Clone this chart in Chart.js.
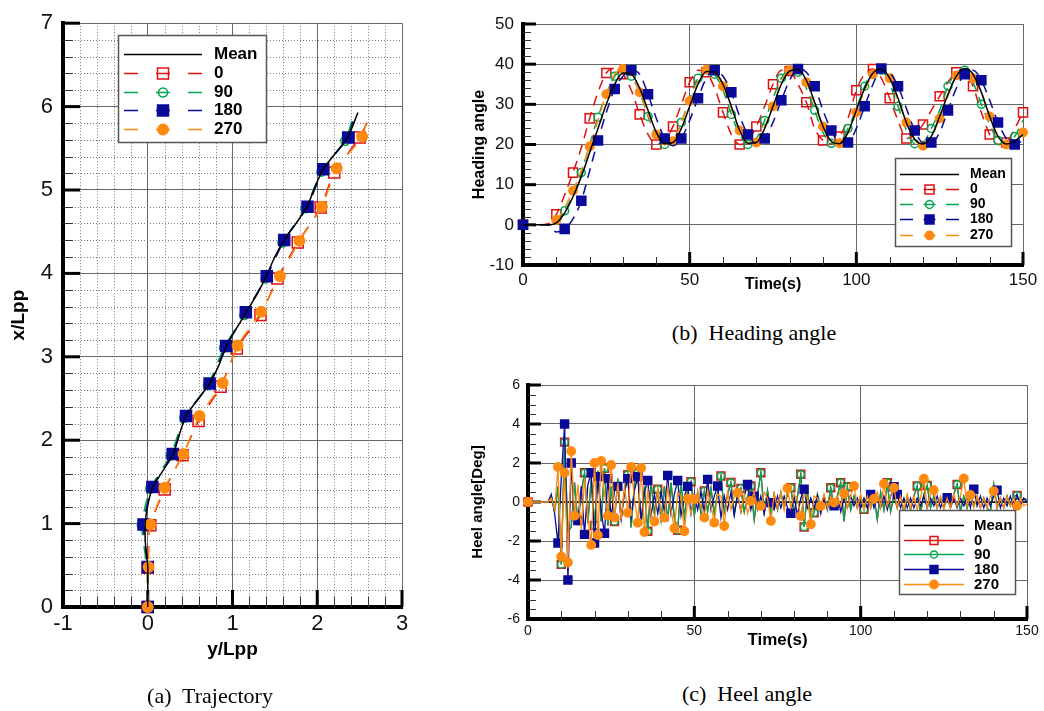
<!DOCTYPE html>
<html>
<head>
<meta charset="utf-8">
<title>Turning in waves: trajectory, heading and heel</title>
<script src="https://cdn.jsdelivr.net/npm/chart.js@4.4.1/dist/chart.umd.min.js"></script>
<style>
  html, body { margin: 0; padding: 0; background: #fff; }
  body { width: 1044px; height: 711px; position: relative; overflow: hidden; }
  canvas { position: absolute; }
  .cap {
    position: absolute;
    font-family: "Liberation Serif", "Times New Roman", serif;
    font-size: 22px;
    color: #000;
    white-space: pre;
    transform: translate(-50%, -50%);
  }
</style>
</head>
<body>
<canvas id="trajChart" width="440" height="711" style="left:0;top:0"></canvas>
<canvas id="headChart" width="584" height="310" style="left:460px;top:0"></canvas>
<canvas id="heelChart" width="584" height="300" style="left:460px;top:360px"></canvas>
<div class="cap" style="left:210px;top:696px">(a)  Trajectory</div>
<div class="cap" style="left:754px;top:333px">(b)  Heading angle</div>
<div class="cap" style="left:747px;top:694px">(c)  Heel angle</div>

<script>
// ---- (a) trajectory: y/Lpp (horizontal) and x/Lpp (vertical) ----
const trajMeanY = [0, 0, -0.03, -0.02, 0.05, 0.17, 0.3, 0.36, 0.45, 0.6, 0.73, 0.84, 0.93, 1.04, 1.16, 1.3, 1.4, 1.5, 1.61, 1.75, 1.88, 1.97, 2.07, 2.22, 2.36, 2.48];
const trajMeanX = [0, 0.48, 0.8, 1.1, 1.42, 1.62, 1.83, 2.03, 2.29, 2.5, 2.68, 2.9, 3.13, 3.33, 3.53, 3.77, 3.97, 4.2, 4.4, 4.6, 4.8, 5.03, 5.25, 5.45, 5.63, 5.93];
const trajY0 = [0, 0, 0.03, 0.2, 0.41, 0.6, 0.86, 1.05, 1.33, 1.53, 1.77, 2.04, 2.2, 2.5, 2.63];
const trajX0 = [0, 0.47, 0.98, 1.41, 1.82, 2.23, 2.64, 3.1, 3.5, 3.94, 4.37, 4.79, 5.21, 5.63, 5.9];
const trajY90 = [0, -0.01, -0.07, 0.03, 0.27, 0.43, 0.71, 0.9, 1.14, 1.39, 1.59, 1.86, 2.05, 2.33, 2.42];
const trajX90 = [0, 0.47, 0.98, 1.42, 1.82, 2.27, 2.66, 3.11, 3.5, 3.94, 4.37, 4.78, 5.22, 5.59, 5.87];
const trajY180 = [0, 0, -0.05, 0.055, 0.295, 0.452, 0.73, 0.925, 1.157, 1.405, 1.61, 1.885, 2.07, 2.365, 2.43];
const trajX180 = [0, 0.48, 0.99, 1.44, 1.835, 2.29, 2.68, 3.13, 3.535, 3.966, 4.4, 4.8, 5.25, 5.63, 5.88];
const trajY270 = [0, 0.01, 0.03, 0.2, 0.42, 0.61, 0.885, 1.06, 1.34, 1.56, 1.79, 2.055, 2.23, 2.53, 2.6];
const trajX270 = [0, 0.48, 0.99, 1.43, 1.835, 2.29, 2.685, 3.135, 3.54, 3.966, 4.39, 4.8, 5.26, 5.64, 5.92];

// ---- (b) heading angle [deg] against time [s] ----
const headT = [0, 2.5, 5, 7.5, 10, 12.5, 15, 17.5, 20, 22.5, 25, 27.5, 30, 32.5, 35, 37.5, 40, 42.5, 45, 47.5, 50, 52.5, 55, 57.5, 60, 62.5, 65, 67.5, 70, 72.5, 75, 77.5, 80, 82.5, 85, 87.5, 90, 92.5, 95, 97.5, 100, 102.5, 105, 107.5, 110, 112.5, 115, 117.5, 120, 122.5, 125, 127.5, 130, 132.5, 135, 137.5, 140, 142.5, 145, 147.5, 150];
const headMean = [0, 0, 0, 0, 0.5, 3, 7, 12, 18, 24, 30, 35, 37.8, 37.5, 34, 28.5, 23, 20.2, 20.5, 24, 29.5, 35, 38.2, 38, 35, 29.5, 23.5, 20.3, 20.5, 24, 29.5, 35, 38.3, 38.7, 36, 30.5, 24.5, 20.8, 20.2, 23, 28.5, 34, 37.8, 38.8, 36.5, 31.5, 25.5, 21.3, 20.1, 22, 27, 32.5, 37, 38.9, 37.5, 33, 27, 22, 20.1, 20.8, 22.5];
const head0 = [0, 0, 0, 0.3, 2.6, 7.5, 13, 19.2, 26.5, 33, 37.8, 39, 37.5, 33.5, 27.5, 22.5, 20, 21, 24.5, 30, 35.5, 38.5, 38, 34, 28, 22.5, 20, 21, 24.5, 29.5, 35, 38.5, 38.3, 35, 30.5, 24, 21, 20.2, 22, 26.5, 33.5, 37.5, 38.8, 36.5, 31.5, 26, 21.5, 22.5, 25, 28.5, 32, 35.5, 38, 38.5, 34.5, 28, 22.5, 20, 20.5, 24, 28];
const head90 = [0, 0, 0, 0, 0.3, 3.5, 7.5, 13, 20, 26.8, 32.5, 37, 38.5, 37, 33, 27, 22, 20, 21, 25.5, 31.5, 36.5, 38.8, 37.5, 33.5, 27.5, 22.5, 20, 21.5, 26, 31.5, 36.5, 38.8, 38, 34, 28.5, 23, 20.3, 20.5, 24, 29, 34.5, 38.3, 38.5, 35, 29.5, 23.5, 20.2, 20.5, 24, 28.5, 34.5, 38, 38.5, 35.5, 30, 25, 21, 20, 22, 26];
const head180 = [0, 0, 0, 0, -1.8, -1, 1.5, 6, 13.5, 21, 28, 33.8, 37, 38.5, 37.5, 32.5, 26.5, 21.5, 19.7, 21.5, 26, 31.5, 36.5, 38.5, 37, 33, 27, 22.5, 20.2, 21.5, 25.5, 31, 36, 38.8, 38, 34.5, 28.5, 23.5, 20.5, 20.5, 24, 29.5, 35, 38.9, 38, 34.5, 29, 23.5, 20.5, 20.5, 23, 28.5, 34, 37.5, 38.5, 36, 31, 25.5, 21.5, 20, 21];
const head270 = [0, 0, 0, 0, 1.2, 4.3, 8.5, 13.5, 19.5, 26, 32.5, 37.5, 38.8, 37, 33, 27.5, 22.5, 20, 20.8, 25.5, 30.8, 35.5, 38.6, 38, 34.5, 29, 23.5, 20.3, 20.5, 24.5, 29.5, 35.5, 38.5, 38.5, 35.5, 30, 24.5, 20.8, 20.3, 22.8, 28, 33.5, 37.5, 38.7, 36.5, 31, 25.5, 21.2, 19.7, 22, 26.5, 32, 37.2, 38.8, 36.5, 33, 27, 22, 20, 20.5, 23];

// ---- (c) heel angle [deg] against time [s] ----
const heelT = [0, 1, 2, 3, 4, 5, 6, 7, 8, 9, 10, 11, 12, 13, 14, 15, 16, 17, 18, 19, 20, 21, 22, 23, 24, 25, 26, 27, 28, 29, 30, 31, 32, 33, 34, 35, 36, 37, 38, 39, 40, 41, 42, 43, 44, 45, 46, 47, 48, 49, 50, 51, 52, 53, 54, 55, 56, 57, 58, 59, 60, 61, 62, 63, 64, 65, 66, 67, 68, 69, 70, 71, 72, 73, 74, 75, 76, 77, 78, 79, 80, 81, 82, 83, 84, 85, 86, 87, 88, 89, 90, 91, 92, 93, 94, 95, 96, 97, 98, 99, 100, 101, 102, 103, 104, 105, 106, 107, 108, 109, 110, 111, 112, 113, 114, 115, 116, 117, 118, 119, 120, 121, 122, 123, 124, 125, 126, 127, 128, 129, 130, 131, 132, 133, 134, 135, 136, 137, 138, 139, 140, 141, 142, 143, 144, 145, 146, 147, 148, 149, 150];
const heelMeanT = [0, 150];
const heelMean = [0, 0];
const heel0 = [
  0, 0, 0, 0, 0, 0, 0, 0.3, -0.5, 0.8,
  -3.2, 3.07, -1.5, -1.3, 1.0, -1.2, 0.5, 1.5, -1.1, 1.2,
  -1.2, 1.6, -1.0, 1.73, -1.2, 0.8, -1.0, 1.2, -0.9, 0.6,
  1.4, -1.3, 0.9, 1.5, -1.2, 0.8, -1.5, 1.0, -0.6, 0.65,
  -0.9, 0.8, -1.0, 1.0, -0.8, -1.45, 1.0, -0.8, 0.6, 1.04,
  -0.7, 0.5, -0.6, 0.56, -0.5, 0.7, -0.6, 0.5, 1.33, -0.5,
  0.4, 1.0, -0.6, 0.4, 0.7, -0.5, 0.3, 0.82, -0.9, 0.4,
  1.5, -0.5, 0.6, -0.6, 0.4, -0.4, 0.5, -0.3, 0.4, 0.73,
  -0.5, 0.3, 1.42, -1.28, 0.5, -0.9, -0.55, 0.4, -0.3, 0.3,
  -0.4, 0.73, -0.3, 0.3, 0.99, -1.0, 0.78, -0.4, 0.3, -0.3,
  0.3, -0.38, 0.4, -0.3, 0.3, -0.9, 0.5, -0.4, 0.99, -0.5,
  0.3, -0.3, 0.4, -0.6, 0.3, -0.4, 0.3, 0.82, -0.6, 0.4,
  0.85, -0.3, 0.3, -0.3, 0.2, -0.3, 0.3, -0.2, 0.4, 0.9,
  -0.5, 0.3, -0.3, 0.3, -0.2, 0.3, -0.3, 0.2, -0.3, -0.5,
  0.9, -0.3, 0.2, -0.3, 0.3, -0.2, 0.3, 0.34, -0.2, 0.2, 0.1
];
const heel90 = [
  0, 0, 0, 0, 0, 0, 0, 0.3, -0.5, 0.8,
  -3.2, 3.07, -1.5, -1.3, 1.0, -1.2, 0.5, 1.5, -1.1, 1.2,
  -1.2, 1.6, -1.0, 1.73, -1.2, 0.8, -1.0, 1.2, -0.9, 0.6,
  1.4, -1.3, 0.9, 1.5, -1.2, 0.8, -1.5, 1.0, -0.6, 0.65,
  -0.9, 0.8, -1.0, 1.0, -0.8, -1.45, 1.0, -0.8, 0.6, 1.04,
  -0.7, 0.5, -0.6, 0.56, -0.5, 0.7, -0.6, 0.5, 1.33, -0.5,
  0.4, 1.0, -0.6, 0.4, 0.7, -0.5, 0.3, 0.82, -0.9, 0.4,
  1.5, -0.5, 0.6, -0.6, 0.4, -0.4, 0.5, -0.3, 0.4, 0.73,
  -0.5, 0.3, 1.42, -1.28, 0.5, -0.9, -0.55, 0.4, -0.3, 0.3,
  -0.4, 0.73, -0.3, 0.3, 0.99, -1.0, 0.78, -0.4, 0.3, -0.3,
  0.3, -0.38, 0.4, -0.3, 0.3, -0.9, 0.5, -0.4, 0.99, -0.5,
  0.3, -0.3, 0.4, -0.6, 0.3, -0.4, 0.3, 0.82, -0.6, 0.4,
  0.85, -0.3, 0.3, -0.3, 0.2, -0.3, 0.3, -0.2, 0.4, 0.9,
  -0.5, 0.3, -0.3, 0.3, -0.2, 0.3, -0.3, 0.2, -0.3, -0.5,
  0.9, -0.3, 0.2, -0.3, 0.3, -0.2, 0.3, 0.34, -0.2, 0.2, 0.1
];
const heel180 = [
  0, 0, 0, 0, 0, 0, 0, 0.4, -0.6, -2.1,
  1.2, 4.0, -4.0, 2.0, -1.0, -0.95, 0.8, -1.66, 0.9, 1.5,
  -2.1, 1.3, -0.5, -1.6, 1.2, -0.8, 0.6, 0.8, -0.9, 0.5,
  1.2, -0.8, 0.6, 1.3, -0.9, 0.5, 1.1, -0.7, 0.4, -0.6,
  0.5, -0.5, 1.36, -0.6, 0.4, 1.1, -0.7, 0.3, 0.8, -0.6,
  0.4, -0.4, 0.5, -0.5, 1.16, -0.4, 0.3, 0.82, -0.8, 0.3,
  -0.4, 0.5, -0.7, 0.4, -0.5, 0.3, 0.9, -0.4, 0.3, -0.4,
  0.3, -0.6, 0.3, -0.03, -0.4, 0.3, -0.3, 0.3, -0.3, -0.58,
  0.3, -0.7, 0.2, 0.65, -0.3, 0.2, -0.3, 0.3, -0.6, 0.2,
  -0.3, 0.3, -0.2, 0.3, -0.5, 0.2, -0.3, 0.3, -0.2, 0.2,
  -0.3, 0.2, -0.3, 0.39, -0.3, 0.2, -0.3, 0.3, -0.4, 0.3,
  0.78, 0.39, -0.3, 0.2, -0.3, 0.2, -0.3, 0.2, -0.2, 0.3,
  -0.3, 0.2, -0.2, 0.3, -0.3, 0.2, 0.22, -0.3, 0.2, -0.3,
  0.2, -0.2, 0.3, -0.3, 0.65, -0.2, 0.3, -0.3, 0.2, -0.2,
  0.3, 0.61, -0.3, 0.2, -0.2, 0.3, -0.3, 0.4, -0.2, 0.2, 0
];
const heel270 = [
  0, 0, 0, 0, 0, 0, 0, 0.2, -0.4, 1.8,
  -2.8, 1.5, -3.1, 2.6, -0.7, 0.9, -1.4, 1.2, -0.8, -2.2,
  2.0, -1.7, 2.1, 0.4, -0.7, 1.9, -0.8, 1.0, -0.9, 0.8,
  -0.55, 1.8, 0.2, -1.06, 1.75, -1.54, 0.6, -0.6, -1.0, 0.7,
  -0.5, -0.8, 0.8, -0.4, -1.35, 0.5, 0.3, -1.5, 0.17, -0.6,
  0.14, 0.5, -0.3, -0.8, 0.6, -0.2, -1.06, 0.4, 0.3, -1.23,
  0.5, -0.4, 0.3, 0.48, -0.5, 0.4, -0.6, 0.05, 0.5, -0.4,
  -0.2, 0.5, 0.2, -0.97, 0.4, -0.3, 0.5, -0.4, 0.7, -0.3,
  0.4, 0.1, -0.72, 0.4, 0.2, -1.14, 0.3, 0.2, -0.2, 0.4,
  -0.3, 0.3, -0.03, 0.3, -0.2, 0.44, -0.3, 0.3, 0.82, -0.3,
  0.4, -0.4, 0.3, -0.3, 0.17, 0.5, -0.3, 0.94, -0.2, 0.3,
  0.73, -0.3, 0.3, -0.4, 0.4, -0.3, 0.3, -0.4, 0.2, 1.19,
  -0.3, 0.4, 0.6, -0.3, 0.3, -0.4, 0.2, -0.3, 0.4, -0.2,
  0.3, 1.21, -0.2, 0.36, -0.3, 0.3, -0.3, 0.2, -0.3, 0.3,
  0.56, -0.3, 0.2, -0.3, 0.3, -0.2, 0.2, -0.2, 0.2, -0.2, -0.1
];
// time steps (index into heelT) that carry a symbol
const heelMarks0 = [0, 10, 11, 17, 20, 23, 26, 30, 33, 36, 39, 45, 49, 53, 58, 61, 64, 67, 70, 79, 82, 83, 86, 91, 94, 96, 101, 108, 117, 120, 129, 147];
const heelMarks180 = [9, 11, 12, 13, 15, 17, 19, 20, 21, 23, 24, 27, 30, 33, 36, 42, 45, 48, 54, 57, 66, 68, 73, 79, 83, 92, 103, 110, 111, 126, 134, 141];
const heelMarks270 = [0, 9, 10, 11, 12, 13, 14, 19, 20, 21, 22, 24, 25, 26, 30, 31, 33, 34, 35, 38, 41, 44, 47, 48, 50, 53, 56, 59, 63, 67, 70, 73, 78, 82, 85, 88, 92, 95, 98, 104, 107, 110, 119, 122, 131, 133, 140, 147];

const RED = '#e01010', GREEN = '#00a650', BLUE = '#0a0a9a', ORANGE = '#ff8a10';
const NONE = 'rgba(0,0,0,0)';

Chart.defaults.font.family = '"Liberation Sans", Arial, Helvetica, sans-serif';
Chart.defaults.color = '#000';

const pts = (xs, ys) => xs.map((v, i) => ({ x: v, y: ys[i] }));

function seg(ctx, x1, y1, x2, y2) {
  ctx.beginPath();
  ctx.moveTo(x1, y1);
  ctx.lineTo(x2, y2);
  ctx.stroke();
}

// minor positions between the major ticks
function minorVals(scale, step) {
  const out = [];
  const n = Math.round((scale.max - scale.min) / step);
  for (let i = 1; i < n; i++) {
    const v = scale.min + i * step;
    if (!scale.ticks.some(t => Math.abs(t.value - v) < step / 10)) out.push(v);
  }
  return out;
}

function drawLegend(chart, L) {
  const ctx = chart.ctx;
  ctx.save();
  ctx.fillStyle = '#fff';
  ctx.fillRect(L.box[0], L.box[1], L.box[2], L.box[3]);
  ctx.strokeStyle = '#555';
  ctx.lineWidth = 1.5;
  ctx.strokeRect(L.box[0] + 0.5, L.box[1] + 0.5, L.box[2], L.box[3]);
  ctx.font = 'bold ' + L.font + 'px "Liberation Sans", Arial, sans-serif';
  ctx.textBaseline = 'middle';
  chart.data.datasets.forEach((ds, i) => {
    const yy = L.rowY[i] + 0.5;
    ctx.strokeStyle = ds.borderColor;
    ctx.lineWidth = ds.borderWidth;
    if (ds.symbol && ds.borderDash && ds.borderDash.length) {
      seg(ctx, L.x0, yy, L.x0 + L.dash, yy);
      seg(ctx, L.mark - L.stub, yy, L.mark + L.stub, yy);
      seg(ctx, L.x1 - L.dash, yy, L.x1, yy);
    } else {
      seg(ctx, L.x0, yy, L.x1, yy);
    }
    if (ds.symbol) {
      ctx.fillStyle = ds.symbolFill;
      ctx.lineWidth = ds.pointBorderWidth;
      Chart.helpers.drawPoint(ctx, { pointStyle: ds.symbol, radius: ds.symbolR, borderWidth: ds.pointBorderWidth, rotation: 0 }, L.mark, yy);
    }
    ctx.fillStyle = '#000';
    ctx.fillText(ds.label, L.text, yy);
  });
  ctx.restore();
}

// inward tick marks, thick major ticks, optional dotted minor grid
const tecAxes = {
  id: 'tecAxes',
  beforeDatasetsDraw(chart, args, o) {
    const { ctx, chartArea: a } = chart;
    const xs = chart.scales.x, ys = chart.scales.y;
    ctx.save();
    if (o.dotted) {
      ctx.strokeStyle = '#7a7a7a';
      ctx.lineWidth = 1;
      ctx.setLineDash([1, 2]);
      minorVals(xs, o.xMinor).forEach(v => {
        const p = Math.round(xs.getPixelForValue(v)) + 0.5;
        seg(ctx, p, a.top, p, a.bottom);
      });
      minorVals(ys, o.yMinor).forEach(v => {
        const p = Math.round(ys.getPixelForValue(v)) + 0.5;
        seg(ctx, a.left, p, a.right, p);
      });
      ctx.setLineDash([]);
    }
    ctx.strokeStyle = '#333';
    ctx.lineWidth = 1;
    minorVals(ys, o.yMinor).forEach(v => {
      const p = Math.round(ys.getPixelForValue(v)) + 0.5;
      seg(ctx, a.left, p, a.left + o.minorLen, p);
    });
    minorVals(xs, o.xMinor).forEach(v => {
      const p = Math.round(xs.getPixelForValue(v)) + 0.5;
      seg(ctx, p, a.bottom, p, a.bottom - o.minorLen);
    });
    ctx.strokeStyle = '#000';
    ctx.lineWidth = 3;
    ys.ticks.forEach(t => {
      const p = ys.getPixelForValue(t.value);
      seg(ctx, a.left, p, a.left + o.majorLen, p);
    });
    xs.ticks.forEach(t => {
      const p = xs.getPixelForValue(t.value);
      seg(ctx, p, a.bottom, p, a.bottom - o.majorLen);
    });
    ctx.restore();
  },
  afterDatasetsDraw(chart, args, o) {
    if (o.legend) drawLegend(chart, o.legend);
  }
};

function axis(min, max, step, size, pad, title, titleSize, titlePad, fixed, horizontal) {
  return {
    type: 'linear',
    min: min,
    max: max,
    ticks: { stepSize: step, autoSkip: false, maxRotation: 0, padding: pad, color: '#111', font: { size: size } },
    grid: { color: '#666', lineWidth: 1, drawTicks: false },
    border: { display: true, color: '#000', width: 4 },
    title: { display: true, text: title, color: '#000', padding: titlePad, font: { size: titleSize, weight: 'bold' } },
    afterFit: s => { if (horizontal) s.height = fixed; else s.width = fixed; }
  };
}

function baseOptions(padding, scales, tec) {
  return {
    responsive: false,
    animation: false,
    devicePixelRatio: 1,
    events: [],
    layout: { padding: padding },
    scales: scales,
    plugins: { legend: { display: false }, tooltip: { enabled: false }, tecAxes: tec }
  };
}

// ---------- (a) Trajectory ----------
const trajSets = [
  { label: 'Mean', y: trajMeanY, x: trajMeanX, color: '#000', dash: [], symbol: null, order: 0 },
  { label: '0', y: trajY0, x: trajX0, color: RED, dash: [13, 11], symbol: 'rect', r: 7.8, fill: NONE, order: 4 },
  { label: '90', y: trajY90, x: trajX90, color: GREEN, dash: [13, 11], symbol: 'circle', r: 4.5, fill: NONE, order: 3 },
  { label: '180', y: trajY180, x: trajX180, color: BLUE, dash: [13, 11], symbol: 'rect', r: 7.8, fill: BLUE, order: 2 },
  { label: '270', y: trajY270, x: trajX270, color: ORANGE, dash: [13, 11], symbol: 'circle', r: 5.2, fill: ORANGE, order: 1 }
];

new Chart(document.getElementById('trajChart'), {
  type: 'scatter',
  data: {
    datasets: trajSets.map(s => ({
      label: s.label,
      data: pts(s.y, s.x),
      showLine: true,
      borderColor: s.color,
      borderWidth: 1.5,
      borderDash: s.dash,
      tension: 0.2,
      clip: false,
      order: s.order,
      symbol: s.symbol,
      symbolR: s.r,
      symbolFill: s.fill,
      pointStyle: s.symbol || 'circle',
      pointBackgroundColor: s.fill || NONE,
      pointBorderColor: s.color,
      pointBorderWidth: 1.5,
      pointRadius: s.symbol ? (c => c.dataIndex < s.y.length - 1 ? s.r : 0) : 0
    }))
  },
  options: baseOptions(
    { left: 0, top: 17, right: 38, bottom: 49.6 },
    {
      x: axis(-1, 3, 1, 22, 4, 'y/Lpp', 19, { top: 0, bottom: 0 }, 54.4, true),
      y: axis(0, 7, 1, 22, 10, 'x/Lpp', 19, { top: 7, bottom: 0 }, 63, false)
    },
    {
      dotted: true, xMinor: 0.2, yMinor: 0.2, majorLen: 17, minorLen: 10,
      legend: { box: [118, 35, 148, 107], font: 17, rowY: [54, 73, 92, 110, 129], x0: 124, x1: 202, dash: 14, mark: 163, stub: 7, text: 214 }
    }
  ),
  plugins: [tecAxes]
});

// ---------- (b) Heading angle ----------
const headSets = [
  { label: 'Mean', v: headMean, color: '#000', dash: [], symbol: null, order: 0 },
  { label: '0', v: head0, color: RED, dash: [10, 7], symbol: 'rect', r: 6.4, fill: NONE, off: 0, order: 4 },
  { label: '90', v: head90, color: GREEN, dash: [10, 7], symbol: 'circle', r: 4, fill: NONE, off: 1, order: 3 },
  { label: '180', v: head180, color: BLUE, dash: [10, 7], symbol: 'rect', r: 6.4, fill: BLUE, off: 1, order: 1 },
  { label: '270', v: head270, color: ORANGE, dash: [10, 7], symbol: 'circle', r: 4.2, fill: ORANGE, off: 0, order: 2 }
];

new Chart(document.getElementById('headChart'), {
  type: 'scatter',
  data: {
    datasets: headSets.map(s => ({
      label: s.label,
      data: pts(headT, s.v),
      showLine: true,
      borderColor: s.color,
      borderWidth: 1.5,
      borderDash: s.dash,
      cubicInterpolationMode: 'monotone',
      clip: false,
      order: s.order,
      symbol: s.symbol,
      symbolR: s.r,
      symbolFill: s.fill,
      pointStyle: s.symbol || 'circle',
      pointBackgroundColor: s.fill || NONE,
      pointBorderColor: s.color,
      pointBorderWidth: 1.5,
      pointRadius: s.symbol
        ? (c => (c.dataIndex === 0 || (headT[c.dataIndex] >= 9 && c.dataIndex % 2 === s.off)) ? s.r : 0)
        : 0
    }))
  },
  options: baseOptions(
    { left: 0, top: 24, right: 21, bottom: 15.4 },
    {
      x: axis(0, 150, 50, 17, 5, 'Time(s)', 16, { top: 0, bottom: 0 }, 29.6, true),
      y: axis(-10, 50, 10, 17, 9, 'Heading angle', 16, { top: 10, bottom: 0 }, 63, false)
    },
    {
      dotted: false, xMinor: 10, yMinor: 2, majorLen: 13, minorLen: 8,
      legend: { box: [435, 158, 116, 88], font: 14, rowY: [174, 189, 204, 219, 235], x0: 440, x1: 499, dash: 13, mark: 469.5, stub: 6, text: 510 }
    }
  ),
  plugins: [tecAxes]
});

// ---------- (c) Heel angle ----------
const heelSets = [
  { label: 'Mean', t: heelMeanT, v: heelMean, color: '#000', symbol: null, order: 5 },
  { label: '0', t: heelT, v: heel0, marks: heelMarks0, color: RED, symbol: 'rect', r: 5.6, fill: NONE, order: 4 },
  { label: '90', t: heelT, v: heel90, marks: heelMarks0, color: GREEN, symbol: 'circle', r: 3.6, fill: NONE, order: 3 },
  { label: '180', t: heelT, v: heel180, marks: heelMarks180, color: BLUE, symbol: 'rect', r: 5.6, fill: BLUE, order: 2 },
  { label: '270', t: heelT, v: heel270, marks: heelMarks270, color: ORANGE, symbol: 'circle', r: 4.2, fill: ORANGE, order: 1 }
];

new Chart(document.getElementById('heelChart'), {
  type: 'scatter',
  data: {
    datasets: heelSets.map(s => ({
      label: s.label,
      data: pts(s.t, s.v),
      showLine: true,
      borderColor: s.color,
      borderWidth: 1.3,
      borderDash: [],
      tension: 0,
      clip: false,
      order: s.order,
      symbol: s.symbol,
      symbolR: s.r,
      symbolFill: s.fill,
      pointStyle: s.symbol || 'circle',
      pointBackgroundColor: s.fill || NONE,
      pointBorderColor: s.color,
      pointBorderWidth: 1.5,
      pointRadius: s.symbol ? (c => s.marks.includes(c.dataIndex) ? s.r : 0) : 0
    }))
  },
  options: baseOptions(
    { left: 0, top: 25, right: 17, bottom: 9.8 },
    {
      x: axis(0, 150, 50, 14, 4, 'Time(s)', 17, { top: 0, bottom: 0 }, 31.2, true),
      y: axis(-6, 6, 2, 14, 8, 'Heel angle[Deg]', 15, { top: 8.5, bottom: 0 }, 68, false)
    },
    {
      dotted: false, xMinor: 10, yMinor: 0.5, majorLen: 13, minorLen: 8,
      legend: { box: [439, 150, 116, 84], font: 15, rowY: [165, 180, 194, 209, 224], x0: 444, x1: 504, dash: 0, mark: 474, stub: 0, text: 514 }
    }
  ),
  plugins: [tecAxes]
});
</script>
</body>
</html>
